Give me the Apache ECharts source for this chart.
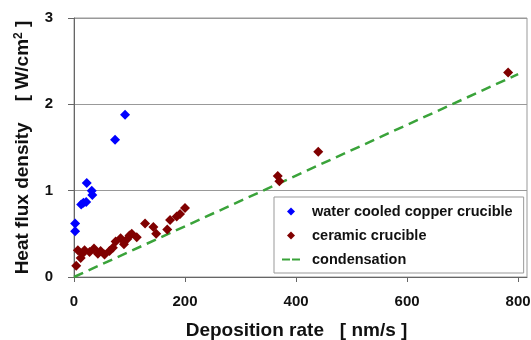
<!DOCTYPE html>
<html>
<head>
<meta charset="utf-8">
<script src="https://cdn.jsdelivr.net/npm/echarts@6/dist/echarts.min.js"></script>
<style>
  html, body { margin: 0; padding: 0; background: #fff; }
  #chart { width: 531px; height: 340px; }
</style>
</head>
<body>
<div id="chart"></div>
<script>
// 数据
var copperData = [[2, 0.62], [2, 0.53], [13, 0.84], [17, 0.86], [22, 0.87], [23, 1.09], [32, 1.0], [33, 0.95], [74, 1.59], [92, 1.88]];
var ceramicData = [[4, 0.13], [7, 0.31], [12, 0.22], [15, 0.27], [19, 0.31], [28, 0.29], [36, 0.33], [43, 0.27], [48, 0.3], [55, 0.26],
  [64, 0.3], [70, 0.34], [75, 0.41], [84, 0.45], [90, 0.38], [96, 0.44], [100, 0.48], [104, 0.5], [113, 0.46], [128, 0.62],
  [143, 0.58], [148, 0.5], [168, 0.55], [173, 0.66], [185, 0.7], [191, 0.73], [200, 0.8], [367, 1.17], [370, 1.11], [440, 1.45], [782, 2.37]];
var condensationData = [[0, 0], [800, 2.35]];
var xTicks = [0, 200, 400, 600, 800];
var seriesNames = ['water cooled copper crucible', 'ceramic crucible', 'condensation'];

var font = "'Liberation Sans', Arial, sans-serif";
var chart = echarts.init(document.getElementById('chart'));

// 图例图标
var diamondIcon = 'path://M5,0 L10,5 L5,10 L0,5 Z';
var dashIcon = 'path://M0,0 L8,0 L8,2 L0,2 Z M10,0 L18,0 L18,2 L10,2 Z';

var option = {
  backgroundColor: '#fff',
  animation: false,
  grid: {
    left: 74, right: 4, top: 18, bottom: 63,
    outerBoundsMode: 'none',
    show: true, borderColor: '#999', borderWidth: 1
  },
  legend: {
    orient: 'vertical',
    left: 274, top: 197,
    padding: [7, 11, 6, 8],
    itemGap: 9,
    itemWidth: 18,
    itemHeight: 8,
    symbolKeepAspect: true,
    borderColor: '#999',
    borderWidth: 1,
    backgroundColor: '#fff',
    data: [
      { name: seriesNames[0], icon: diamondIcon },
      { name: seriesNames[1], icon: diamondIcon },
      { name: seriesNames[2], icon: dashIcon }
    ],
    textStyle: { fontFamily: font, fontSize: 14.5, fontWeight: 'bold', color: '#111', padding: [0, 0, 0, 7] }
  },
  xAxis: {
    type: 'value',
    min: 0, max: 816,
    name: 'Deposition rate   [ nm/s ]',
    nameLocation: 'middle',
    nameGap: 44,
    nameTextStyle: { fontFamily: font, fontSize: 19, fontWeight: 'bold', color: '#111', padding: [0, 8, 0, 0] },
    axisLine: { lineStyle: { color: '#666' } },
    axisTick: { show: true, length: 5, customValues: xTicks, lineStyle: { color: '#666' } },
    axisLabel: { customValues: xTicks, margin: 17, fontFamily: font, fontSize: 15, fontWeight: 'bold', color: '#111' },
    splitLine: { show: false }
  },
  yAxis: {
    type: 'value',
    min: 0, max: 3, interval: 1,
    name: 'Heat flux density    [ W/cm{sup|2} ]',
    nameLocation: 'middle',
    nameGap: 41,
    nameTextStyle: {
      fontFamily: font, fontSize: 19, fontWeight: 'bold', color: '#111',
      rich: { sup: { fontFamily: font, fontSize: 12, fontWeight: 'bold', color: '#111', verticalAlign: 'top', padding: [0, 0, 8, 0] } }
    },
    axisLine: { show: true, lineStyle: { color: '#666' } },
    axisTick: { show: true, length: 6, lineStyle: { color: '#666' } },
    axisLabel: { margin: 21, fontFamily: font, fontSize: 15, fontWeight: 'bold', color: '#111' },
    splitLine: { show: true, lineStyle: { color: '#999', width: 1 } }
  },
  series: [
    {
      name: seriesNames[0],
      type: 'scatter',
      symbol: 'diamond',
      symbolSize: 10,
      itemStyle: { color: '#0000ff', opacity: 1 },
      data: copperData
    },
    {
      name: seriesNames[1],
      type: 'scatter',
      symbol: 'diamond',
      symbolSize: 10,
      itemStyle: { color: '#800000', opacity: 1 },
      data: ceramicData
    },
    {
      name: seriesNames[2],
      type: 'line',
      symbol: 'none',
      z: 1,
      lineStyle: { color: '#3aa33a', width: 2.5, type: [10, 6] },
      itemStyle: { color: '#3aa33a' },
      data: condensationData
    }
  ]
};

chart.setOption(option);
</script>
</body>
</html>
